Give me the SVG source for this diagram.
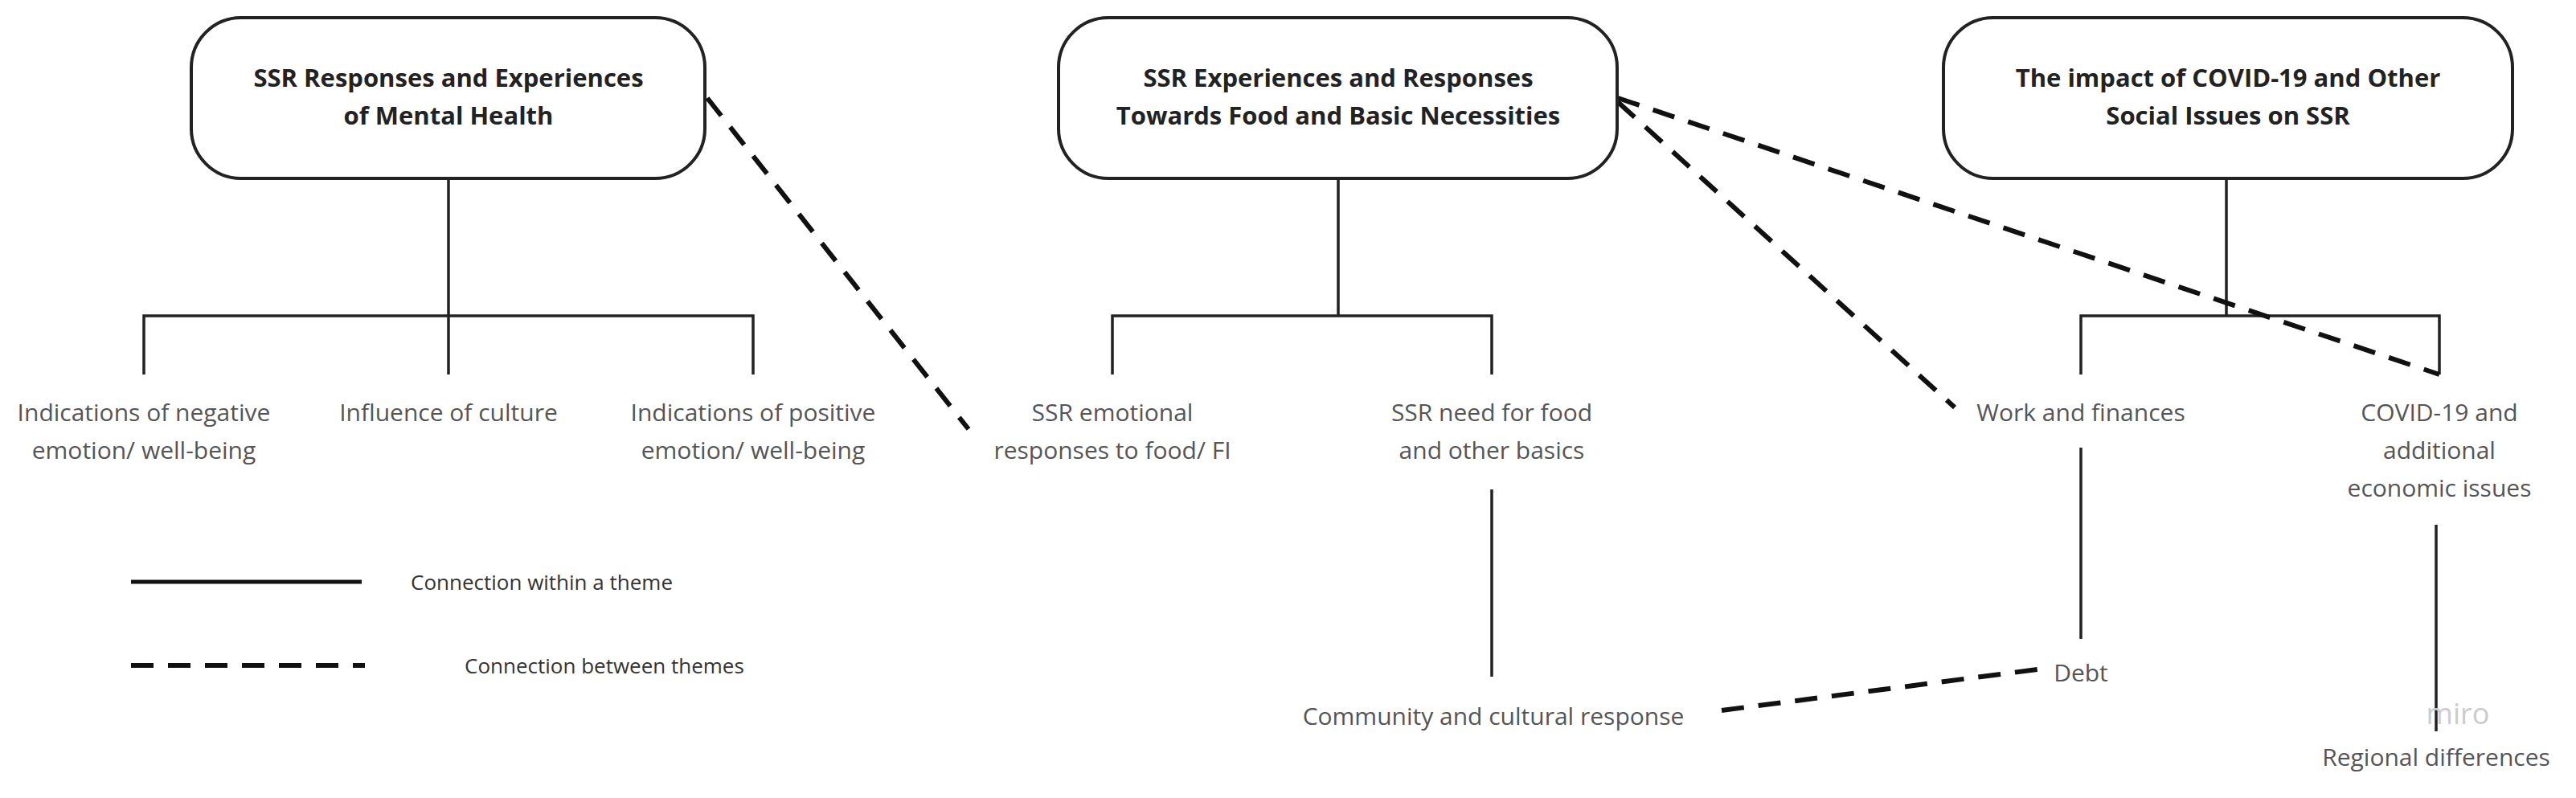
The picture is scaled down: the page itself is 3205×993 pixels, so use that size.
<svg xmlns="http://www.w3.org/2000/svg" width="3205" height="993" viewBox="0 0 3205 993">
<style>
.box{fill:#fff;stroke:#222;stroke-width:4}
.t{font-family:"Open Sans","Liberation Sans",sans-serif;font-weight:bold;font-size:31px;fill:#222;text-anchor:middle}
.l{font-family:"Open Sans","Liberation Sans",sans-serif;font-size:30px;fill:#555;text-anchor:middle}
.lg{font-family:"Open Sans","Liberation Sans",sans-serif;font-size:26px;fill:#333}
.s{fill:none;stroke:#222;stroke-width:3.5}
.d{fill:none;stroke:#111;stroke-width:6;stroke-dasharray:28 18}
</style>
<rect width="3205" height="993" fill="#fff"/>
<g id="connectors">
<path class="s" d="M558 222V393M179 466V393H937V466M558 393V466"/>
<path class="s" d="M1665 222V393M1384 466V393H1856V466M1856 609V842"/>
<path class="s" d="M2770 222V393M2589 466V393H3035V466M2589 557V795M3031 653V910"/>
<path class="d" d="M880 122L1205 534"/>
<path class="d" d="M2013 127L2432 507"/>
<path class="d" d="M2013 122L3035 466"/>
<path class="d" d="M2142 884L2535 833"/>
</g>
<g id="n1"><rect class="box" x="238" y="22" width="639" height="200" rx="62"/>
<text class="t" x="558" y="108">SSR Responses and Experiences</text><text class="t" x="558" y="155">of Mental Health</text></g>
<g id="n2"><rect class="box" x="1317" y="22" width="695" height="200" rx="62"/>
<text class="t" x="1665" y="108">SSR Experiences and Responses</text><text class="t" x="1665" y="155">Towards Food and Basic Necessities</text></g>
<g id="n3"><rect class="box" x="2418" y="22" width="708" height="200" rx="62"/>
<text class="t" x="2772" y="108">The impact of COVID-19 and Other</text><text class="t" x="2772" y="155">Social Issues on SSR</text></g>
<g id="n4"><text class="l" x="179" y="524">Indications of negative</text><text class="l" x="179" y="571">emotion/ well-being</text></g>
<g id="n5"><text class="l" x="558" y="524">Influence of culture</text></g>
<g id="n6"><text class="l" x="937" y="524">Indications of positive</text><text class="l" x="937" y="571">emotion/ well-being</text></g>
<g id="n7"><text class="l" x="1384" y="524">SSR emotional</text><text class="l" x="1384" y="571">responses to food/ FI</text></g>
<g id="n8"><text class="l" x="1856" y="524">SSR need for food</text><text class="l" x="1856" y="571">and other basics</text></g>
<g id="n9"><text class="l" x="1858" y="902">Community and cultural response</text></g>
<g id="n10"><text class="l" x="2589" y="524">Work and finances</text></g>
<g id="n11"><text class="l" x="2589" y="848">Debt</text></g>
<g id="n12"><text class="l" x="3035" y="524">COVID-19 and</text><text class="l" x="3035" y="571">additional</text><text class="l" x="3035" y="618">economic issues</text></g>
<g id="n13"><text class="l" x="3031" y="953">Regional differences</text></g>
<text x="3058" y="901" font-family="Open Sans, Liberation Sans, sans-serif" font-size="36" fill="#ccc" text-anchor="middle">miro</text>
<g id="legend">
<line x1="163" y1="724" x2="450" y2="724" stroke="#111" stroke-width="5"/>
<text class="lg" x="511" y="734">Connection within a theme</text>
<line x1="163" y1="828" x2="454" y2="828" stroke="#111" stroke-width="6" stroke-dasharray="28 18"/>
<text class="lg" x="578" y="838">Connection between themes</text>
</g>
</svg>
